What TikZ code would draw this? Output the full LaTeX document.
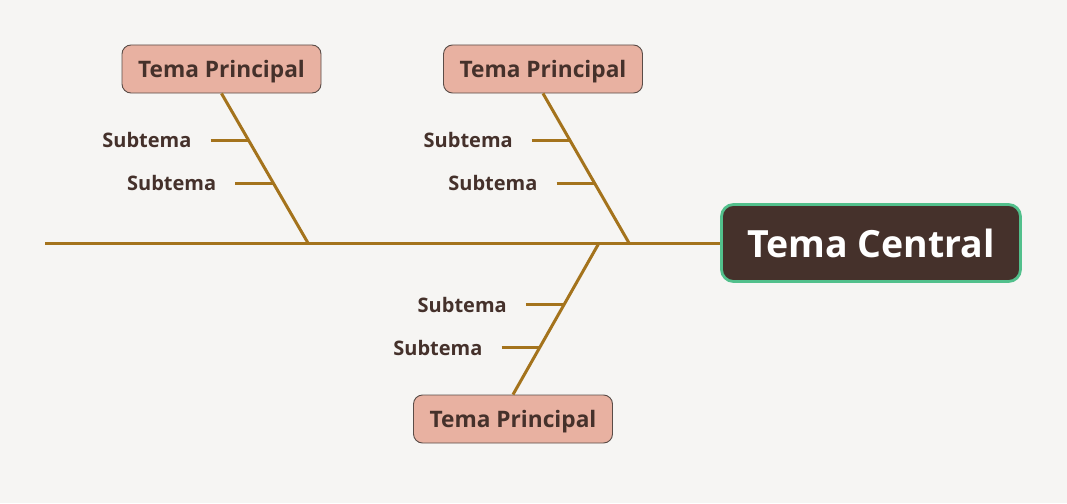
\documentclass[tikz,border=0pt]{standalone}
\usepackage{fontspec}
\setmainfont{Open Sans}
\usetikzlibrary{calc,positioning}
\definecolor{paper}{HTML}{F6F5F3}
\definecolor{bonecol}{HTML}{A4731C}
\definecolor{topicfill}{HTML}{E8B1A1}
\definecolor{topicline}{HTML}{5A4C47}
\definecolor{ink}{HTML}{45312B}
\definecolor{rim}{HTML}{52C08C}
\begin{document}
\begin{tikzpicture}[x=1pt,y=-1pt,
  bone/.style={draw=bonecol,line width=3pt},
  topic/.style={draw=topicline,fill=topicfill,line width=0.9pt,rounded corners=9pt,
    minimum width=199pt,minimum height=48pt,text=ink,text depth=0pt,
    font=\bfseries\fontsize{22.7}{26}\selectfont},
  centre/.style={draw=rim,fill=ink,line width=2.8pt,rounded corners=12pt,
    minimum width=299pt,minimum height=77pt,text=white,
    font=\bfseries\fontsize{37.5}{44}\selectfont},
  sub/.style={inner sep=0pt,text=ink,font=\bfseries\fontsize{20}{24}\selectfont}]
  \fill[paper] (0,0) rectangle (1067,503);
  \node[centre] (tc) at (871,243) {Tema Central};
  \node[topic] (t1) at (221.5,69) {Tema Principal};
  \node[topic] (t2) at (543,69) {Tema Principal};
  \node[topic] (t3) at (513,419) {Tema Principal};
  \coordinate (tail) at (45,243);
  \coordinate (s1) at (308,243);
  \coordinate (s2) at (629,243);
  \coordinate (s3) at (599,243);
  % spine and bones
  \draw[bone] (tail) -- (tc.west);
  \draw[bone] (t1.south) -- (s1);
  \draw[bone] (t2.south) -- (s2);
  \draw[bone] (t3.north) -- (s3);
  % subtopics
  \foreach \k/\from/\to/\f in {a/t1.south/s1/.313, b/t1.south/s1/.6,
      c/t2.south/s2/.313, d/t2.south/s2/.6, e/t3.north/s3/.592, f/t3.north/s3/.309} {
    \coordinate (k\k) at ($(\from)!\f!(\to)$);
    \node[sub,left=57pt of k\k] (u\k) {Subtema};
    \draw[bone] ([xshift=19pt]u\k.east) -- (k\k);
  }
\end{tikzpicture}
\end{document}
